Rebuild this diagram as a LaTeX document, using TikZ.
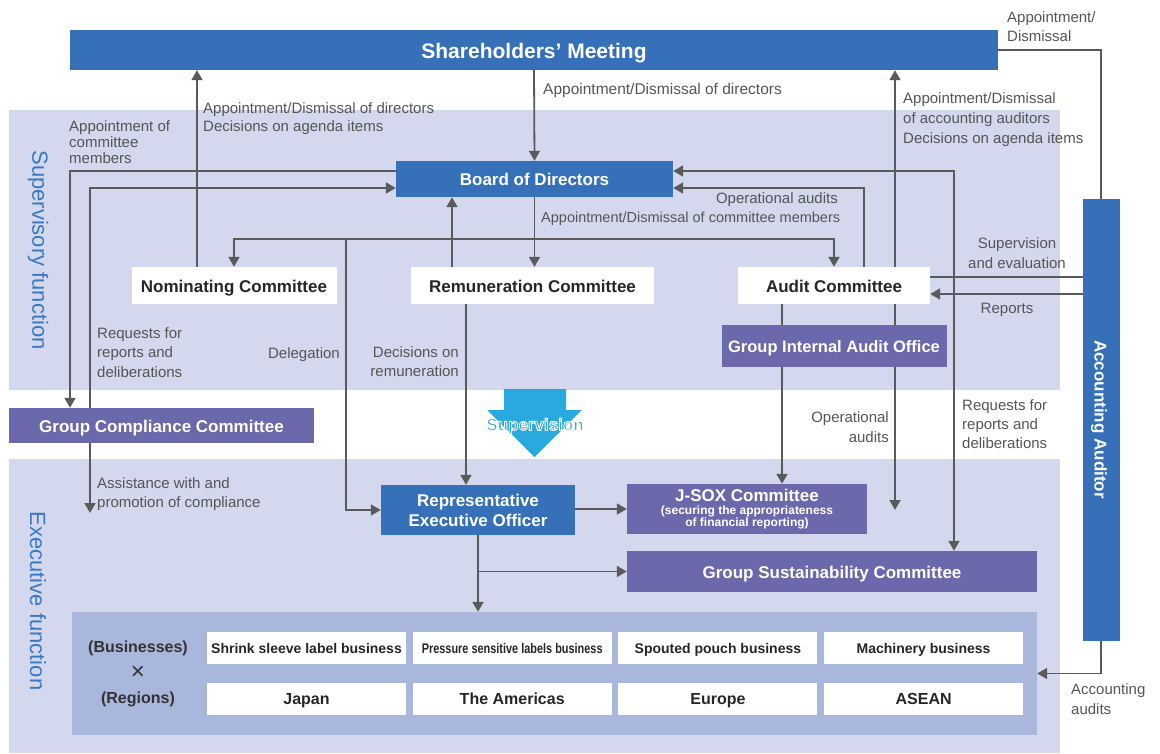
\documentclass[tikz,border=0pt]{standalone}
\usepackage{fontspec}
\usepackage{graphicx}
\setmainfont{Liberation Sans}
\usetikzlibrary{arrows.meta,calc}
\definecolor{blu}{HTML}{3570B8}
\definecolor{pur}{HTML}{6B68AC}
\definecolor{band}{HTML}{D3D8EE}
\definecolor{pnl}{HTML}{AAB7DC}
\definecolor{lnc}{HTML}{5A5A5A}
\definecolor{lbl}{HTML}{555555}
\definecolor{sky}{HTML}{29A9DE}
\definecolor{fnc}{HTML}{3A78C2}
\newcommand{\fsz}[2]{\fontsize{#1}{#2}\selectfont}
\newcommand{\outl}[1]{\special{pdf:literal direct 1 1 1 RG 0.9 w 2 Tr}#1\special{pdf:literal direct 0 Tr}}
\pgfdeclarelayer{bg}
\pgfdeclarelayer{lines}
\pgfsetlayers{bg,lines,main}

\begin{document}
\begin{tikzpicture}[x=1pt, y=-1pt,
  box/.style={inner sep=0pt, align=center, font=\fsz{17}{20}\bfseries},
  one/.style={text height=16pt, text depth=3pt},
  bluebox/.style={box, fill=blu, text=white},
  purbox/.style={box, fill=pur, text=white},
  whitebox/.style={box, one, fill=white, text=black!85},
  cell/.style={box, fill=white, text=black!85, font=\fsz{14}{17}\bfseries,
    text height=13pt, text depth=3pt, minimum width=199pt, minimum height=32pt},
  lab/.style={text=lbl, font=\fsz{15}{19}, inner sep=0pt, align=left},
  arr/.style={draw=lnc, line width=1.8pt, -{Triangle[length=10pt,width=11pt]}},
  arrb/.style={draw=lnc, line width=1.8pt,
    {Triangle[length=10pt,width=11pt]}-{Triangle[length=10pt,width=11pt]}},
  fn/.style={rotate=-90, text=fnc, font=\fsz{22}{26}}]
  \useasboundingbox (0,0) rectangle (1160,753);

  \begin{pgfonlayer}{bg}
    \fill[band] (9,110) rectangle (1060,390);
    \fill[band] (9,459) rectangle (1060,753);
  \end{pgfonlayer}

  \node[fn] (supf) at (38,250) {Supervisory function};
  \node[fn] (exef) at (38,601) {Executive function};

  \node[bluebox, minimum width=928pt, minimum height=40pt, font=\fsz{21}{25}\bfseries,
    text height=19pt, text depth=3pt] (SM) at (534,50) {Shareholders’ Meeting};
  \node[bluebox, one, minimum width=442pt, minimum height=37pt, rotate=-90]
    (AA) at (1101,419.5) {Accounting Auditor};
  \node[bluebox, one, minimum width=277pt, minimum height=36pt] (BoD) at (534.5,179) {Board of Directors};

  \node[whitebox, minimum width=205pt, minimum height=37pt] (NC) at (234,285.5) {Nominating Committee};
  \node[whitebox, minimum width=243pt, minimum height=37pt] (RC) at (532.5,285.5) {Remuneration Committee};
  \node[whitebox, minimum width=192pt, minimum height=37pt] (AC) at (834,285.5) {Audit Committee};
  \node[purbox, one, minimum width=225pt, minimum height=42pt, font=\fsz{16.5}{20}\bfseries]
    (GIAO) at (834,346) {Group Internal Audit Office};
  \node[purbox, one, minimum width=305pt, minimum height=35pt] (GCC) at (161.5,425.5) {Group Compliance Committee};

  \node[bluebox, minimum width=194pt, minimum height=50pt] (REO) at (478,510) {Representative\\Executive Officer};
  \node[purbox, minimum width=240pt, minimum height=50pt] (JSOX) at (747,509)
    {J-SOX Committee\\[-7pt]\fsz{12}{12}(securing the appropriateness\\[-8pt]\fsz{12}{12}of financial reporting)};
  \node[purbox, one, minimum width=410pt, minimum height=41pt] (GSC) at (832,571.5) {Group Sustainability Committee};

  \node[fill=pnl, minimum width=965pt, minimum height=123pt, inner sep=0pt] (Pnl) at (554.5,673.5) {};
  \node[box, text=black!80, font=\fsz{16}{19}\bfseries] (bus) at (138,648) {(Businesses)};
  \node[box, text=black!80, font=\fsz{24}{25}] (cross) at (138,673) {×};
  \node[box, text=black!80, font=\fsz{16}{19}\bfseries] (reg) at (138,699) {(Regions)};
  \foreach \t [count=\i] in {Shrink sleeve label business,
      {\scalebox{0.78}[1]{Pressure sensitive labels business}},
      Spouted pouch business, Machinery business}
    \node[cell] (biz\i) at ({306.5+205.7*(\i-1)},648) {\t};
  \foreach \t [count=\i] in {Japan, The Americas, Europe, ASEAN}
    \node[cell, font=\fsz{16}{19}\bfseries] (rgn\i) at ({306.5+205.7*(\i-1)},699) {\t};

  \fill[sky] (504,389) -- (566,389) -- (566,410) -- (582,410) -- (534.5,457)
    -- (487,410) -- (504,410) -- cycle;
  \node[box, text=sky] (svt) at (535,426) {\outl{Supervision}};

  \coordinate (cm) at (534.5,239);
  \coordinate (oa) at (895,510);
  \coordinate (ast) at (90,513);

  \begin{pgfonlayer}{lines}
    \draw[arr] (SM.south) -- (BoD.north);
    \draw[arr] ([xshift=-37pt]NC.north) -- ([xshift=-37pt]NC.north |- SM.south);
    \draw[arr] (AC.north -| oa) -- (SM.south -| oa);
    \draw[arr] (AC.south -| oa) -- (oa);
    \draw[arr] (SM.east) -| (AA.east);

    \draw[arr] ([yshift=8pt]BoD.west) -| ([xshift=-91.5pt]GCC.north);
    \draw[arr] ([xshift=-71.5pt]GCC.north) |- ([yshift=-9pt]BoD.west);
    \draw[arr] ([xshift=-71.5pt]GCC.south) -- (ast);

    \draw[arr] (BoD.south) -- (BoD.south |- RC.north);
    \draw[arr] (cm) -| (NC.north);
    \draw[arr] (cm) -| (AC.north);
    \draw[arr] ([xshift=112pt]NC.north |- cm) |- (REO.west);
    \draw[arr] ([xshift=-80.5pt]RC.north) -- ([xshift=-80.5pt]RC.north |- BoD.south);
    \draw[arr] ([xshift=-66.5pt]RC.south) -- ([xshift=-66.5pt]RC.south |- REO.north);

    \draw[arr] ([xshift=30pt]AC.north) |- ([yshift=-9pt]BoD.east);
    \draw[arrb] ([yshift=8pt]BoD.east) -| ([xshift=122pt]GSC.north);
    \draw[arr] ([yshift=8.5pt]AC.east) -- ([yshift=8.5pt]AC.east -| AA.north);
    \draw[arr] ([yshift=-8.5pt]AC.east -| AA.north) -- ([yshift=-8.5pt]AC.east);
    \draw[arr] ([xshift=-52pt]AC.south) -- ([xshift=-52pt]AC.south |- JSOX.north);

    \draw[arr] (REO.east |- JSOX.west) -- (JSOX.west);
    \draw[arr] (REO.south) -- (REO.south |- Pnl.north);
    \draw[arr] (REO.south |- GSC.west) -- (GSC.west);
    \draw[arr] (AA.west) |- (Pnl.east);
  \end{pgfonlayer}

  \node[lab, anchor=west, font=\fsz{15.5}{19}] (l1) at (543,90) {Appointment/Dismissal of directors};
  \node[lab, anchor=west, font=\fsz{15}{18}] (l2) at (203,119) {Appointment/Dismissal of directors\\Decisions on agenda items};
  \node[lab, anchor=west, font=\fsz{15}{16}] (l3) at (69,142) {Appointment of\\committee\\members};
  \node[lab, anchor=west, font=\fsz{15}{20}] (l4) at (903,120)
    {Appointment/Dismissal\\of accounting auditors\\Decisions on agenda items};
  \node[lab, anchor=west] (l5) at (1007,26.5) {Appointment/\\Dismissal};
  \node[lab, anchor=east] (l6) at (838,200) {Operational audits};
  \node[lab, anchor=west, font=\fsz{14.5}{19}] (l7) at (541,219) {Appointment/Dismissal of committee members};
  \node[lab, align=center, font=\fsz{15}{20}] (l8) at (1017,253) {Supervision\\and evaluation};
  \node[lab] (l9) at (1007,310) {Reports};
  \node[lab, anchor=west, font=\fsz{15}{19.5}] (l10) at (97,352.5) {Requests for\\reports and\\deliberations};
  \node[lab, anchor=east] (l11) at (340,355) {Delegation};
  \node[lab, anchor=east, align=right] (l12) at (459,361.5) {Decisions on\\remuneration};
  \node[lab, anchor=east, align=right, font=\fsz{15}{20}] (l13) at (889,427) {Operational\\audits};
  \node[lab, anchor=west] (l14) at (962,424) {Requests for\\reports and\\deliberations};
  \node[lab, anchor=west] (l15) at (97,494.5) {Assistance with and\\promotion of compliance};
  \node[lab, anchor=west, font=\fsz{15}{20}] (l16) at (1071,699) {Accounting\\audits};
\end{tikzpicture}
\end{document}
